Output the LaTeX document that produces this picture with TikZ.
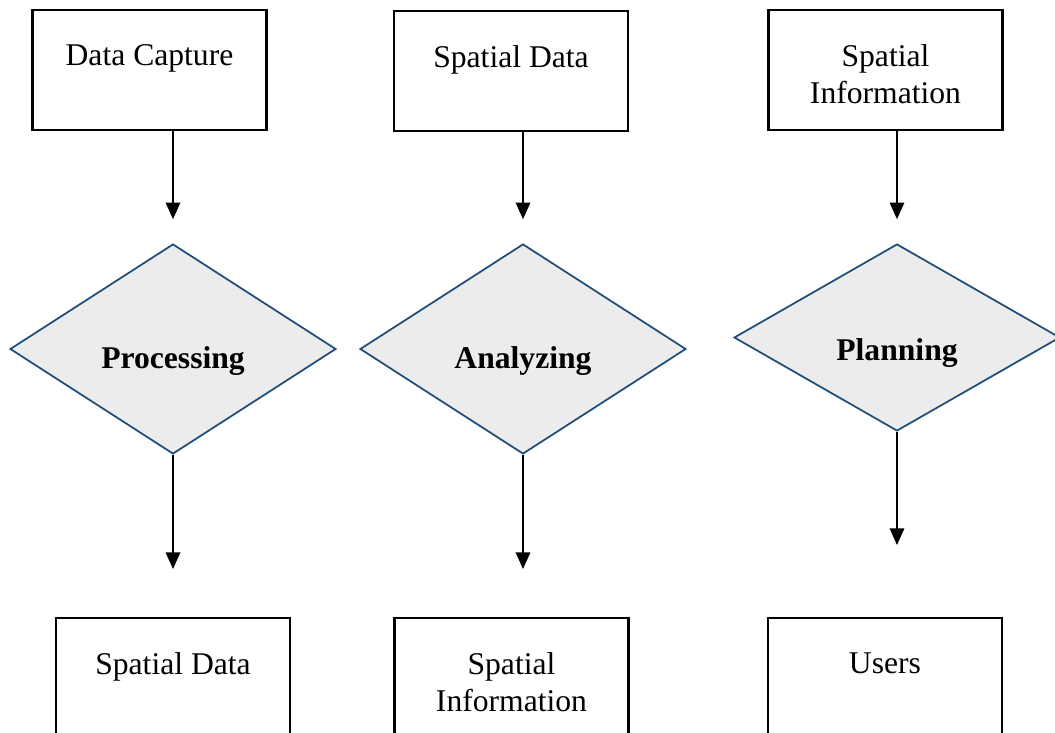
\documentclass[tikz,border=0pt]{standalone}
\usepackage{fontspec}
\setmainfont{Liberation Serif}
\usetikzlibrary{arrows.meta,shapes.geometric}
\definecolor{darkblue}{HTML}{1F4E79}
\definecolor{diamondfill}{HTML}{ECECEC}

\begin{document}
\begin{tikzpicture}[x=0.02cm,y=-0.02cm,
                    box/.style={draw, line width=1.2pt, minimum width=4.68cm, minimum height=2.4cm, inner sep=0pt},
                    boxtext/.style={anchor=north, yshift=-0.7cm, align=center, inner sep=0pt, font=\fontsize{18}{21}\selectfont},
                    decision/.style={diamond, draw=darkblue, line width=1pt, fill=diamondfill, minimum width=6.52cm, minimum height=4.2cm, inner sep=0pt},
                    dectext/.style={inner sep=0pt, font=\bfseries\fontsize{18}{21}\selectfont},
                    arr/.style={line width=0.8pt, -{Triangle[length=0.33cm,width=0.29cm]}}]
                    \useasboundingbox (0,0) rectangle (1055,733);
                    \clip (0,0) rectangle (1055,733);
                    
                    % top row
                    \node[box, label={[boxtext]north:Data Capture}] (capture) at (149.5,70) {};
                    \node[box, label={[boxtext]north:Spatial Data}] (spdata) at (511,71) {};
                    \node[box, label={[boxtext]north:Spatial\\Information}] (spinfo) at (885.5,70) {};
                    
                    % decisions
                    \node[decision, label={[dectext, yshift=-0.24cm]center:Processing}] (processing) at (173,349) {};
                    \node[decision, label={[dectext, yshift=-0.24cm]center:Analyzing}] (analyzing) at (523,349) {};
                    \node[decision, minimum height=3.74cm, label={[dectext, yshift=-0.32cm]center:Planning}] (planning) at (897,337.5) {};
                    
                    % bottom row (cut at the page edge)
                    \node[box, label={[boxtext]north:Spatial Data}] (outdata) at (173,678) {};
                    \node[box, label={[boxtext]north:Spatial\\Information}] (outinfo) at (511.5,678) {};
                    \node[box, label={[boxtext]north:Users}] (users) at (885,678) {};
                    
                    \draw[arr, shorten >=0.48cm] (capture.south -| processing.north) -- (processing.north);
                    \draw[arr, shorten >=0.48cm] (spdata.south -| analyzing.north) -- (analyzing.north);
                    \draw[arr, shorten >=0.48cm] (spinfo.south -| planning.north) -- (planning.north);
                    
                    \draw[arr, shorten >=0.96cm] (processing.south) -- (processing.south |- outdata.north);
                    \draw[arr, shorten >=0.96cm] (analyzing.south) -- (analyzing.south |- outinfo.north);
                    \draw[arr, shorten >=1.44cm] (planning.south) -- (planning.south |- users.north);
                \end{tikzpicture}
\end{document}
